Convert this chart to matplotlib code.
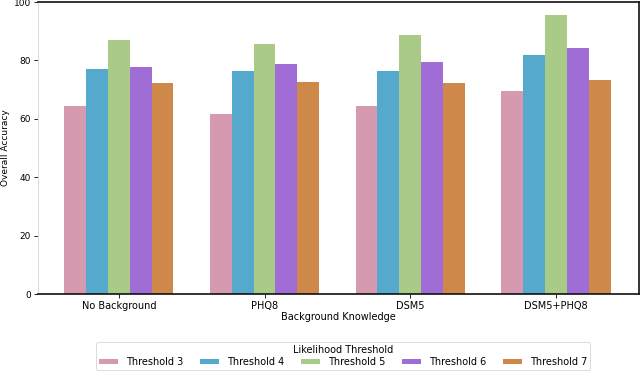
import numpy as np
import matplotlib
matplotlib.use("Agg")
import matplotlib.pyplot as plt

categories = ["No Background", "PHQ8", "DSM5", "DSM5+PHQ8"]
series_names = ["Threshold 3", "Threshold 4", "Threshold 5", "Threshold 6", "Threshold 7"]
thr3 = [64.3, 61.6, 64.3, 69.4]
thr4 = [77.0, 76.4, 76.4, 81.8]
thr5 = [87.0, 85.6, 88.6, 95.5]
thr6 = [77.6, 78.7, 79.3, 84.1]
thr7 = [72.3, 72.6, 72.3, 73.3]
colors = ["#d59aaf", "#55a9cc", "#aacb88", "#a06cd5", "#cd884a"]

values = [thr3, thr4, thr5, thr6, thr7]

plt.rcParams["font.family"] = ["DejaVu Sans"]
fig = plt.figure(figsize=(6.4, 3.73), dpi=100)
ax = fig.add_axes([38 / 640, 1 - 294 / 373, 601 / 640, 292 / 373])

x = np.arange(len(categories))
width = 0.15
for i, (name, vals) in enumerate(zip(series_names, values)):
    ax.bar(x + (i - 2) * width, vals, width, color=colors[i], label=name,
           linewidth=0)

ax.set_xlim(-0.555, 3.57)
ax.set_ylim(0, 100)
ax.set_xticks(x)
ax.set_xticklabels(categories, fontsize=7)
ax.set_yticks([0, 20, 40, 60, 80, 100])
ax.tick_params(axis="y", labelsize=6.5, length=3, width=0.6, pad=2)
ax.tick_params(axis="x", length=3, width=0.6, pad=2)
ax.set_xlabel("Background Knowledge", fontsize=7, labelpad=1)
ax.set_ylabel("Overall Accuracy", fontsize=6.5, labelpad=3)

for s in ["top", "right", "bottom"]:
    ax.spines[s].set_color("#111111")
    ax.spines[s].set_linewidth(1.2)
ax.spines["left"].set_color("#dddddd")
ax.spines["left"].set_linewidth(0.8)

leg = fig.legend(loc="lower center", bbox_to_anchor=(343 / 640, -0.005), ncol=5,
                 title="Likelihood Threshold", fontsize=7, title_fontsize=7,
                 frameon=True, handlelength=2.0, handleheight=0.5,
                 handletextpad=0.8, columnspacing=1.7, borderpad=0.3,
                 labelspacing=0.2, fancybox=True)
leg.get_frame().set_edgecolor("#cccccc")
leg.get_frame().set_linewidth(0.6)

fig.savefig("out.png", dpi=100)
